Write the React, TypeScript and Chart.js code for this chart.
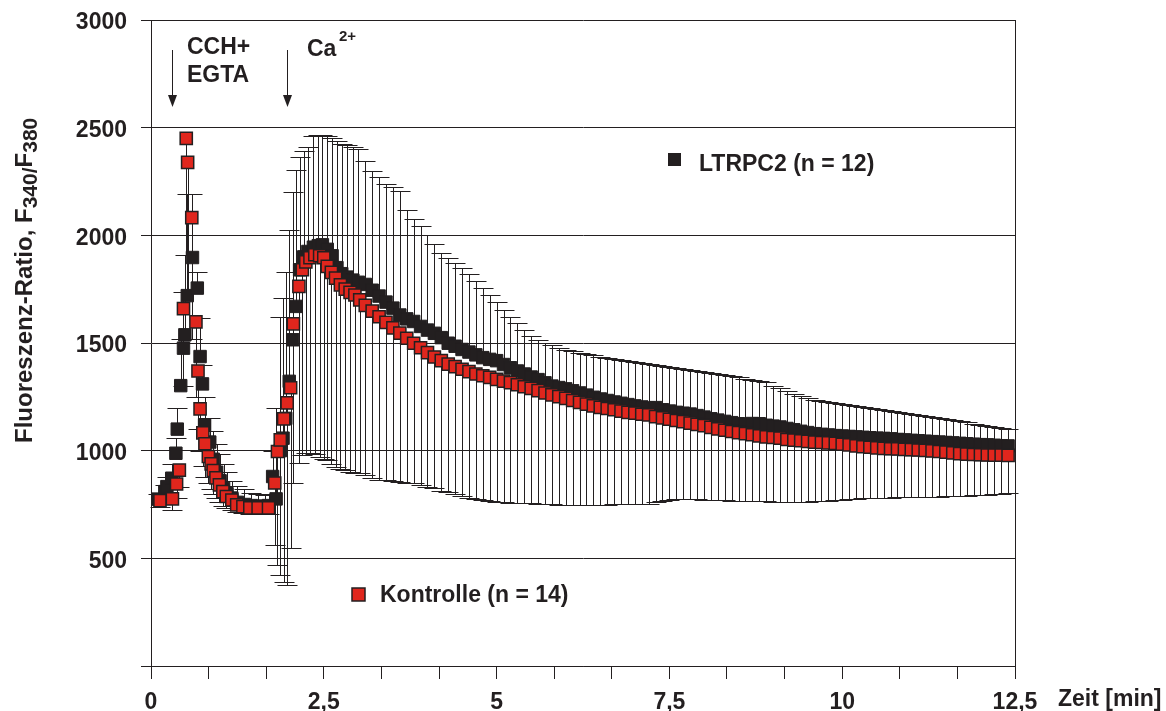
import { useEffect, useRef } from 'react';
import { Chart, registerables } from 'chart.js';

Chart.register(...registerables);

// ---------- Daten (Zeit in min, Fluoreszenz-Ratio) ----------
const zeitKontrolleFrueh = [0.13, 0.31, 0.37, 0.41, 0.47, 0.51, 0.53, 0.59, 0.65, 0.68, 0.71, 0.75, 0.78, 0.83, 0.87, 0.9, 0.94, 0.99, 1.04, 1.09, 1.17, 1.24, 1.33, 1.43, 1.55, 1.7, 1.79, 1.83, 1.87, 1.92, 1.97, 2.02, 2.06, 2.14, 2.19, 2.24, 2.3, 2.37, 2.44, 2.5, 2.55, 2.61, 2.67, 2.74, 2.81, 2.88, 2.95, 3.02];
const kontrolleFrueh = [768, 776, 845, 910, 1660, 2450, 2339, 2082, 1598, 1370, 1194, 1083, 1032, 973, 939, 908, 874, 841, 810, 787, 771, 748, 740, 734, 734, 734, 850, 996, 1050, 1148, 1222, 1292, 1589, 1763, 1840, 1877, 1896, 1910, 1905, 1896, 1856, 1828, 1801, 1770, 1750, 1735, 1723, 1700];
const kontrolleUntenFrueh = [740, 725, 780, 830, 1300, 1910, 1738, 1519, 1250, 1100, 1000, 930, 880, 850, 820, 800, 780, 760, 745, 735, 725, 715, 710, 705, 705, 705, 562, 469, 423, 392, 376, 547, 849, 942, 980, 990, 991, 985, 970, 960, 955, 940, 925, 915, 908, 900, 897, 895];

const zeitLtrpc2Frueh = [0.1, 0.2, 0.23, 0.3, 0.36, 0.38, 0.43, 0.47, 0.49, 0.525, 0.6, 0.67, 0.71, 0.745, 0.775, 0.85, 0.9, 0.95, 1.0, 1.05, 1.1, 1.17, 1.25, 1.35, 1.45, 1.55, 1.65, 1.7, 1.76, 1.81, 1.87, 1.91, 1.95, 2.0, 2.05, 2.1, 2.15, 2.21, 2.27, 2.35, 2.42, 2.48, 2.55, 2.62, 2.69, 2.76, 2.84, 2.92, 3.0];
const ltrpc2Frueh = [775, 810, 833, 872, 988, 1100, 1302, 1476, 1538, 1720, 1897, 1755, 1437, 1310, 1120, 1040, 960, 900, 860, 825, 800, 780, 760, 750, 745, 742, 742, 745, 880, 776, 1000, 1058, 1150, 1322, 1515, 1670, 1840, 1900, 1925, 1945, 1952, 1956, 1935, 1905, 1850, 1822, 1806, 1792, 1782];
const ltrpc2ObenFrueh = [800, 840, 880, 940, 1060, 1200, 1519, 1738, 1910, 2190, 2190, 1828, 1617, 1400, 1251, 1152, 1090, 1030, 985, 940, 900, 860, 835, 820, 805, 800, 795, 800, 1000, 1200, 1623, 1709, 1832, 2023, 2200, 2305, 2364, 2390, 2410, 2460, 2465, 2465, 2463, 2450, 2440, 2426, 2420, 2410, 2401];

const zeitSpaet = [3.1, 3.2, 3.3, 3.4, 3.5, 3.6, 3.7, 3.8, 3.9, 4.0, 4.1, 4.2, 4.3, 4.4, 4.5, 4.6, 4.7, 4.8, 4.9, 5.0, 5.1, 5.2, 5.3, 5.4, 5.5, 5.6, 5.7, 5.8, 5.9, 6.0, 6.1, 6.2, 6.3, 6.4, 6.5, 6.6, 6.7, 6.8, 6.9, 7.0, 7.1, 7.2, 7.3, 7.4, 7.5, 7.6, 7.7, 7.8, 7.9, 8.0, 8.1, 8.2, 8.3, 8.4, 8.5, 8.6, 8.7, 8.8, 8.9, 9.0, 9.1, 9.2, 9.3, 9.4, 9.5, 9.6, 9.7, 9.8, 9.9, 10.0, 10.1, 10.2, 10.3, 10.4, 10.5, 10.6, 10.7, 10.8, 10.9, 11.0, 11.1, 11.2, 11.3, 11.4, 11.5, 11.6, 11.7, 11.8, 11.9, 12.0, 12.1, 12.2, 12.3, 12.4];
const kontrolleSpaet = [1675, 1648, 1622, 1596, 1570, 1546, 1522, 1499, 1478, 1455, 1435, 1418, 1402, 1390, 1378, 1367, 1356, 1348, 1340, 1331, 1323, 1316, 1306, 1297, 1289, 1279, 1268, 1259, 1251, 1243, 1233, 1224, 1216, 1208, 1201, 1196, 1190, 1184, 1178, 1174, 1169, 1166, 1158, 1152, 1146, 1140, 1135, 1128, 1122, 1116, 1108, 1101, 1095, 1089, 1084, 1079, 1074, 1069, 1064, 1061, 1058, 1052, 1049, 1046, 1043, 1040, 1038, 1036, 1034, 1030, 1027, 1022, 1018, 1016, 1013, 1011, 1009, 1008, 1006, 1005, 1003, 1001, 999, 996, 993, 990, 986, 984, 982, 981, 980, 979, 979, 978];
const kontrolleUntenSpaet = [885, 875, 866, 862, 858, 855, 851, 848, 840, 832, 825, 815, 808, 800, 790, 782, 774, 770, 766, 763, 761, 759, 757, 756, 755, 754, 753, 752, 750, 749, 748, 748, 748, 749, 750, 750, 751, 752, 752, 753, 753, 754, 762, 768, 772, 774, 775, 776, 775, 773, 771, 770, 769, 768, 768, 767, 766, 765, 764, 763, 763, 762, 762, 763, 763, 764, 766, 768, 770, 772, 775, 777, 779, 780, 780, 781, 782, 783, 783, 784, 785, 786, 787, 787, 788, 789, 790, 791, 793, 794, 796, 798, 800, 802];
const ltrpc2Spaet = [1772, 1745, 1718, 1690, 1662, 1630, 1612, 1600, 1577, 1560, 1545, 1525, 1499, 1485, 1470, 1458, 1445, 1432, 1424, 1418, 1400, 1385, 1370, 1356, 1342, 1330, 1315, 1300, 1293, 1287, 1278, 1268, 1258, 1248, 1240, 1233, 1226, 1220, 1214, 1208, 1203, 1198, 1200, 1190, 1184, 1178, 1174, 1170, 1163, 1156, 1148, 1142, 1136, 1130, 1125, 1122, 1126, 1125, 1118, 1114, 1110, 1103, 1097, 1090, 1084, 1079, 1076, 1073, 1070, 1068, 1066, 1064, 1062, 1060, 1058, 1057, 1055, 1052, 1050, 1048, 1046, 1044, 1042, 1040, 1038, 1036, 1034, 1032, 1030, 1028, 1027, 1025, 1023, 1022];
const ltrpc2ObenSpaet = [2345, 2300, 2270, 2240, 2225, 2204, 2116, 2075, 2045, 2000, 1960, 1920, 1895, 1872, 1848, 1820, 1787, 1755, 1725, 1692, 1655, 1622, 1594, 1562, 1532, 1512, 1500, 1490, 1478, 1468, 1462, 1455, 1449, 1442, 1437, 1432, 1427, 1422, 1418, 1414, 1409, 1404, 1399, 1394, 1389, 1384, 1379, 1374, 1369, 1365, 1360, 1355, 1350, 1345, 1340, 1335, 1330, 1325, 1320, 1300, 1290, 1278, 1265, 1256, 1246, 1237, 1232, 1228, 1223, 1218, 1213, 1208, 1204, 1199, 1194, 1190, 1185, 1180, 1175, 1170, 1165, 1160, 1155, 1150, 1145, 1141, 1136, 1131, 1126, 1121, 1116, 1111, 1106, 1100];

// ---------- Achsen ----------
const yTickWerte = [0, 500, 1000, 1500, 2000, 2500, 3000];
const yTickTexte = ['', '500', '1000', '1500', '2000', '2500', '3000'];
const xTickWerte = [0, 0.8333, 1.6667, 2.5, 3.3333, 4.1667, 5, 5.8333, 6.6667, 7.5, 8.3333, 9.1667, 10, 10.8333, 11.6667, 12.5];
const xTickTexte = ['0', '', '', '2,5', '', '', '5', '', '', '7,5', '', '', '10', '', '', '12,5'];

const SERIEN_NAMEN = ['Kontrolle (n = 14)', 'LTRPC2 (n = 12)'];
const DUNKEL = '#231f20';
const ROT = '#e0261d';
const FONT = '"Liberation Sans", Arial, Helvetica, sans-serif';

const fehlerPlugin = {
  id: 'fehlerbalken',
  beforeDatasetsDraw(chart: any) {
    const ctx = chart.ctx;
    const ys = chart.scales.y;
    ctx.save();
    ctx.strokeStyle = DUNKEL;
    ctx.lineWidth = 1;
    chart.data.datasets.forEach((ds: any, di: number) => {
      const enden = ds.fehler as number[] | undefined;
      if (!enden) return;
      const meta = chart.getDatasetMeta(di);
      meta.data.forEach((pt: any, i: number) => {
        const x = Math.round(pt.x) + 0.5;
        const yc = Math.round(ys.getPixelForValue(enden[i])) + 0.5;
        ctx.beginPath();
        ctx.moveTo(x, pt.y);
        ctx.lineTo(x, yc);
        ctx.moveTo(x - 10, yc);
        ctx.lineTo(x + 10, yc);
        ctx.stroke();
      });
    });
    ctx.restore();
  },
};

const textPlugin = {
  id: 'beschriftung',
  afterDraw(chart: any) {
    const ctx = chart.ctx;
    const ca = chart.chartArea;
    ctx.save();
    // rechter Rahmen
    ctx.strokeStyle = DUNKEL;
    ctx.lineWidth = 1;
    ctx.beginPath();
    ctx.moveTo(Math.round(ca.right) + 0.5, ca.top);
    ctx.lineTo(Math.round(ca.right) + 0.5, ca.bottom);
    ctx.stroke();

    ctx.fillStyle = DUNKEL;
    ctx.textAlign = 'left';
    ctx.textBaseline = 'alphabetic';
    const gross = `bold 23px ${FONT}`;
    ctx.font = gross;
    ctx.fillText('CCH+', 187, 54);
    ctx.fillText('EGTA', 187, 82);
    ctx.fillText('Ca', 307, 56);
    ctx.font = `bold 15px ${FONT}`;
    ctx.fillText('2+', 339, 41);

    // Pfeile
    const pfeil = (x: number) => {
      ctx.beginPath();
      ctx.moveTo(x + 0.5, 50);
      ctx.lineTo(x + 0.5, 98);
      ctx.stroke();
      ctx.beginPath();
      ctx.moveTo(x + 0.5 - 4.5, 95);
      ctx.lineTo(x + 0.5 + 4.5, 95);
      ctx.lineTo(x + 0.5, 107);
      ctx.closePath();
      ctx.fill();
    };
    pfeil(172);
    pfeil(287);

    // Legenden
    ctx.fillStyle = DUNKEL;
    ctx.fillRect(668, 153, 13, 13);
    ctx.font = gross;
    ctx.fillText(SERIEN_NAMEN[1], 699, 171);

    ctx.fillStyle = ROT;
    ctx.fillRect(352, 588, 13, 13);
    ctx.strokeStyle = DUNKEL;
    ctx.lineWidth = 1.5;
    ctx.strokeRect(352, 588, 13, 13);
    ctx.fillStyle = DUNKEL;
    ctx.fillText(SERIEN_NAMEN[0], 380, 602);

    // x-Achsentitel
    ctx.fillText('Zeit [min]', 1058, 706);

    // y-Achsentitel
    ctx.translate(32, 443);
    ctx.rotate(-Math.PI / 2);
    const teile = [
      { t: 'Fluoreszenz-Ratio, F', f: `bold 24px ${FONT}`, dy: 0 },
      { t: '340/', f: `bold 21px ${FONT}`, dy: 5 },
      { t: 'F', f: `bold 24px ${FONT}`, dy: 0 },
      { t: '380', f: `bold 21px ${FONT}`, dy: 5 },
    ];
    let px = 0;
    for (const p of teile) {
      ctx.font = p.f;
      ctx.fillText(p.t, px, p.dy);
      px += ctx.measureText(p.t).width;
    }
    ctx.restore();
  },
};

export default function App() {
  const ref = useRef<HTMLCanvasElement>(null);

  useEffect(() => {
    const canvas = ref.current;
    if (!canvas) return;
    Chart.defaults.font.family = FONT;

    const kZeit = [...zeitKontrolleFrueh, ...zeitSpaet];
    const kWerte = [...kontrolleFrueh, ...kontrolleSpaet];
    const kUnten = [...kontrolleUntenFrueh, ...kontrolleUntenSpaet];
    const lZeit = [...zeitLtrpc2Frueh, ...zeitSpaet];
    const lWerte = [...ltrpc2Frueh, ...ltrpc2Spaet];
    const lOben = [...ltrpc2ObenFrueh, ...ltrpc2ObenSpaet];

    const chart = new Chart(canvas, {
      type: 'scatter',
      data: {
        datasets: [
          {
            label: SERIEN_NAMEN[0],
            data: kZeit.map((x, i) => ({ x, y: kWerte[i] })),
            pointStyle: 'rect',
            pointRadius: 8.6,
            backgroundColor: ROT,
            borderColor: DUNKEL,
            borderWidth: 1.5,
            fehler: kUnten,
          } as any,
          {
            label: SERIEN_NAMEN[1],
            data: lZeit.map((x, i) => ({ x, y: lWerte[i] })),
            pointStyle: 'rect',
            pointRadius: 8.8,
            backgroundColor: DUNKEL,
            borderColor: DUNKEL,
            borderWidth: 1,
            fehler: lOben,
          } as any,
        ],
      },
      options: {
        responsive: false,
        animation: false,
        devicePixelRatio: 1,
        layout: { padding: { top: 20, right: 151, bottom: 0, left: 0 } },
        plugins: { legend: { display: false }, tooltip: { enabled: false } },
        scales: {
          x: {
            type: 'linear',
            min: 0,
            max: 12.5,
            afterBuildTicks: (scale: any) => {
              scale.ticks = xTickWerte.map((v) => ({ value: v }));
            },
            afterFit: (scale: any) => {
              scale.height = 45;
              scale.paddingLeft = 0;
              scale.paddingRight = 0;
            },
            ticks: {
              autoSkip: false,
              maxRotation: 0,
              padding: 10,
              color: DUNKEL,
              font: { size: 23, weight: 'bold', family: FONT },
              callback: (_v: any, i: number) => xTickTexte[i],
            },
            grid: {
              drawOnChartArea: false,
              drawTicks: true,
              tickLength: 13,
              color: DUNKEL,
              lineWidth: 1,
            },
            border: { display: true, color: DUNKEL, width: 1 },
          },
          y: {
            type: 'linear',
            min: 0,
            max: 3000,
            afterBuildTicks: (scale: any) => {
              scale.ticks = yTickWerte.map((v) => ({ value: v }));
            },
            afterFit: (scale: any) => {
              scale.width = 151;
              scale.paddingTop = 0;
              scale.paddingBottom = 0;
            },
            ticks: {
              padding: 14,
              color: DUNKEL,
              labelOffset: 3,
              font: { size: 23, weight: 'bold', family: FONT },
              callback: (_v: any, i: number) => yTickTexte[i],
            },
            grid: {
              drawOnChartArea: true,
              drawTicks: true,
              tickLength: 10,
              color: DUNKEL,
              lineWidth: 1,
            },
            border: { display: true, color: DUNKEL, width: 1 },
          },
        },
      },
      plugins: [fehlerPlugin, textPlugin],
    } as any);

    return () => chart.destroy();
  }, []);

  return (
    <div style={{ position: 'fixed', left: 0, top: 0, width: 1166, height: 711, background: '#ffffff' }}>
      <canvas ref={ref} width={1166} height={711} style={{ display: 'block', width: 1166, height: 711 }} />
    </div>
  );
}
